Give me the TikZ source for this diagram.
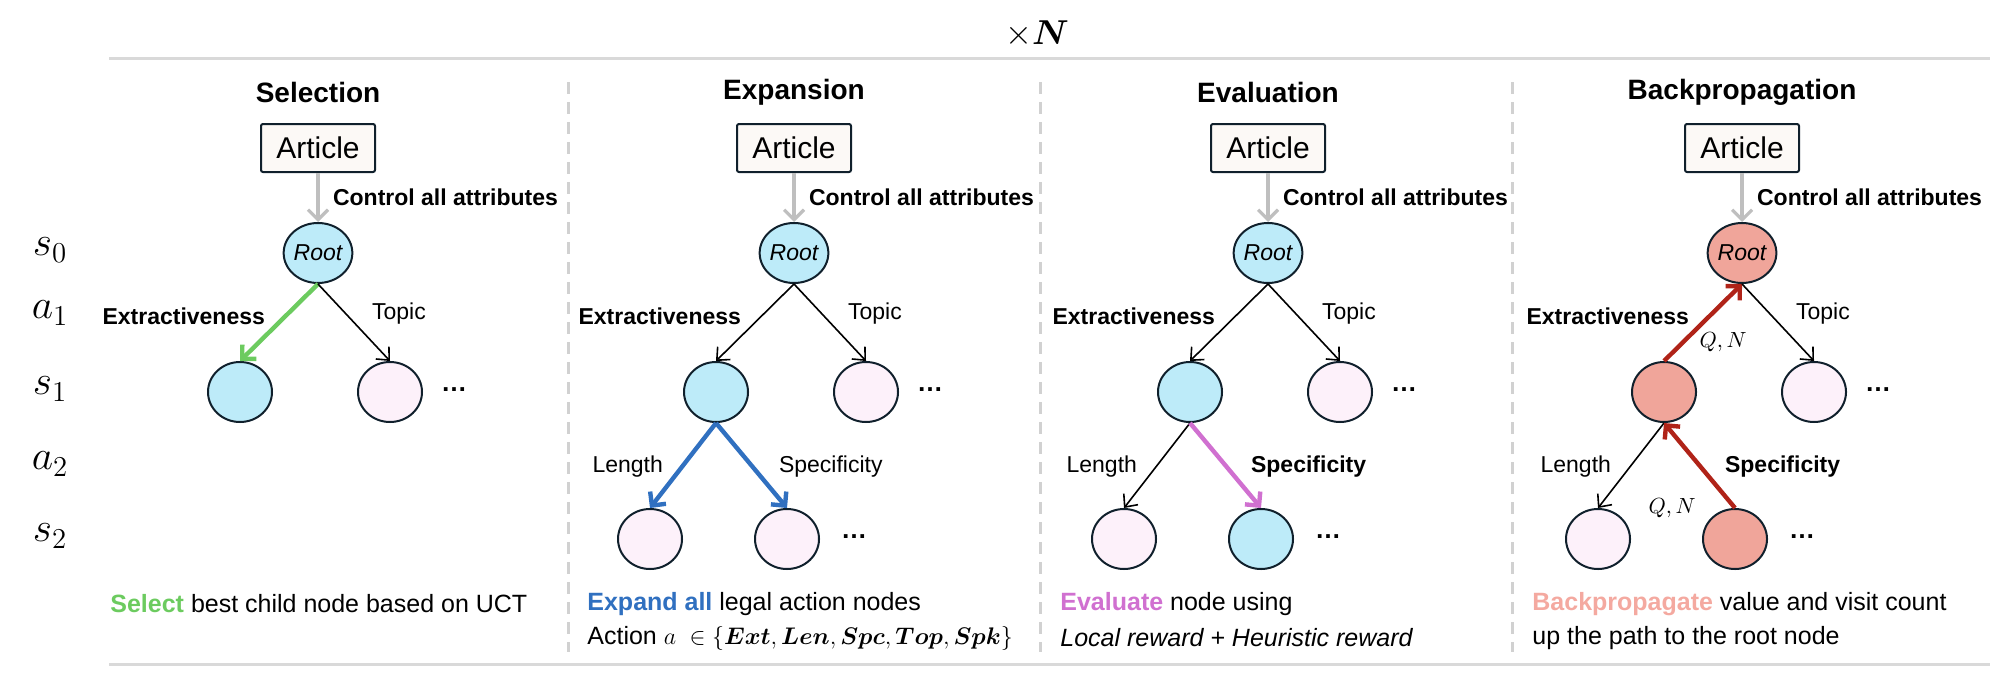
\documentclass[tikz,border=0pt]{standalone}
\usepackage{amsmath,amssymb,bm}
\usepackage{fontspec}
\setmainfont{Liberation Sans}
\usetikzlibrary{arrows.meta,shapes.geometric}
\definecolor{nblue}{HTML}{BDEBF9}
\definecolor{npink}{HTML}{FDF1FA}
\definecolor{nsal}{HTML}{F0A59A}
\definecolor{nwhite}{HTML}{FCF9F6}
\definecolor{cgreen}{HTML}{6CCB5F}
\definecolor{cblue}{HTML}{3070C0}
\definecolor{cpurp}{HTML}{D070D0}
\definecolor{cred}{HTML}{B02318}
\definecolor{csal}{HTML}{F4A9A0}
\definecolor{bord}{HTML}{10202C}
\tikzset{
  st/.style={ellipse,draw=bord,line width=1pt,minimum width=32pt,minimum height=30pt,inner sep=0pt,font=\fontsize{11.5}{13}\selectfont\itshape},
  sblue/.style={st,fill=nblue},
  spink/.style={st,fill=npink},
  ssal/.style={st,fill=nsal},
  artbox/.style={draw=bord,line width=1pt,fill=nwhite,minimum width=57pt,minimum height=24pt,rounded corners=1pt,font=\fontsize{15}{17}\selectfont},
  ttl/.style={font=\fontsize{14}{16}\selectfont\bfseries},
  lab/.style={font=\fontsize{11.5}{13}\selectfont},
  blab/.style={font=\fontsize{11.5}{13}\selectfont\bfseries},
  btxt/.style={font=\fontsize{12.5}{15}\selectfont,anchor=west,inner sep=0pt},
  thin/.style={-{Straight Barb[length=5pt,width=9pt]},line width=0.8pt},
  thick/.style={-{Straight Barb[length=5pt,width=10pt]},line width=2.2pt},
  grayarr/.style={-{Straight Barb[length=5pt,width=10pt]},line width=1.6pt,draw=black!25},
  dots/.style={font=\fontsize{13}{13}\selectfont\bfseries},
  side/.style={font=\fontsize{20}{22}\selectfont},
}
\begin{document}
\begin{tikzpicture}[x=0.5pt,y=-0.5pt]
\useasboundingbox (0,0) rectangle (2016,680);
\node[font=\fontsize{18}{20}\selectfont] (xn) at (1037,34) {$\times\bm{N}$};
\draw[black!15,line width=1.5pt] (109,58) -- (1990,58);
\draw[black!15,line width=1.5pt] (109,664) -- (1990,664);
\foreach \x in {568,1040,1512} \draw[black!18,line width=1.5pt,dash pattern=on 6pt off 4pt] (\x,82) -- (\x,652);
\node[side] (s0) at (50,250) {$s_0$};
\node[side] (a1) at (50,313) {$a_1$};
\node[side] (s1) at (50,389) {$s_1$};
\node[side] (a2) at (50,464) {$a_2$};
\node[side] (s2) at (50,536) {$s_2$};

% Panel 1: Selection
\begin{scope}[xshift=159pt,name prefix=p1-]
\node[ttl] (t) at (0,92) {Selection};
\node[artbox] (art) at (0,148) {Article};
\node[sblue] (root) at (0,253) {Root};
\node[sblue] (c1) at (-78,392) {};
\node[spink] (c2) at (72,392) {};
\node[dots] (d1) at (136,390) {\dots};
\draw[grayarr] (art) -- (root);
\node[blab,anchor=west] (ctl) at (8,197) {Control all attributes};
\draw[thick,cgreen] (root.south) -- (c1.north);
\draw[thin] (root.south) -- (c2.north);
\node[blab,anchor=east] (l1) at (-46,316) {Extractiveness};
\node[lab,anchor=west] (l2) at (47,314) {Topic};
\end{scope}
\node[btxt] (b1) at (110,604) {\textbf{\textcolor{cgreen}{Select}} best child node based on UCT};

% Panel 2: Expansion
\begin{scope}[xshift=397pt,name prefix=p2-]
\node[ttl] (t) at (0,92) {Expansion};
\node[artbox] (art) at (0,148) {Article};
\node[sblue] (root) at (0,253) {Root};
\node[sblue] (c1) at (-78,392) {};
\node[spink] (c2) at (72,392) {};
\node[dots] (d1) at (136,390) {\dots};
\node[spink] (g1) at (-144,539) {};
\node[spink] (g2) at (-7,539) {};
\node[dots] (d2) at (60,537) {\dots};
\draw[grayarr] (art) -- (root);
\node[blab,anchor=west] (ctl) at (8,197) {Control all attributes};
\draw[thin] (root.south) -- (c1.north);
\draw[thin] (root.south) -- (c2.north);
\node[blab,anchor=east] (l1) at (-46,316) {Extractiveness};
\node[lab,anchor=west] (l2) at (47,314) {Topic};
\draw[thick,cblue] (c1.south) -- (g1.north);
\draw[thick,cblue] (c1.south) -- (g2.north);
\node[lab,anchor=east] (l3) at (-124,467) {Length};
\node[lab,anchor=west] (l4) at (-22,467) {Specificity};
\end{scope}
\node[btxt] (b2a) at (587,604) {\textbf{\textcolor{cblue}{Expand all}} legal action nodes};
\node[btxt] (b2b) at (587,638) {Action {\large$a\ \in\{\bm{Ext},\bm{Len},\bm{Spc},\bm{Top},\bm{Spk}\}$}};

% Panel 3: Evaluation
\begin{scope}[xshift=634pt,name prefix=p3-]
\node[ttl] (t) at (0,92) {Evaluation};
\node[artbox] (art) at (0,148) {Article};
\node[sblue] (root) at (0,253) {Root};
\node[sblue] (c1) at (-78,392) {};
\node[spink] (c2) at (72,392) {};
\node[dots] (d1) at (136,390) {\dots};
\node[spink] (g1) at (-144,539) {};
\node[sblue] (g2) at (-7,539) {};
\node[dots] (d2) at (60,537) {\dots};
\draw[grayarr] (art) -- (root);
\node[blab,anchor=west] (ctl) at (8,197) {Control all attributes};
\draw[thin] (root.south) -- (c1.north);
\draw[thin] (root.south) -- (c2.north);
\node[blab,anchor=east] (l1) at (-46,316) {Extractiveness};
\node[lab,anchor=west] (l2) at (47,314) {Topic};
\draw[thin] (c1.south) -- (g1.north);
\draw[thick,cpurp] (c1.south) -- (g2.north);
\node[lab,anchor=east] (l3) at (-124,467) {Length};
\node[blab,anchor=west] (l4) at (-24,467) {Specificity};
\end{scope}
\node[btxt] (b3a) at (1060,604) {\textbf{\textcolor{cpurp}{Evaluate}} node using};
\node[btxt] (b3b) at (1060,638) {\textit{Local reward + Heuristic reward}};

% Panel 4: Backpropagation
\begin{scope}[xshift=871pt,name prefix=p4-]
\node[ttl] (t) at (0,92) {Backpropagation};
\node[artbox] (art) at (0,148) {Article};
\node[ssal] (root) at (0,253) {Root};
\node[ssal] (c1) at (-78,392) {};
\node[spink] (c2) at (72,392) {};
\node[dots] (d1) at (136,390) {\dots};
\node[spink] (g1) at (-144,539) {};
\node[ssal] (g2) at (-7,539) {};
\node[dots] (d2) at (60,537) {\dots};
\draw[grayarr] (art) -- (root);
\node[blab,anchor=west] (ctl) at (8,197) {Control all attributes};
\draw[thick,cred] (c1.north) -- (root.south);
\draw[thin] (root.south) -- (c2.north);
\node[blab,anchor=east] (l1) at (-46,316) {Extractiveness};
\node[lab,anchor=west] (l2) at (47,314) {Topic};
\node[font=\fontsize{11}{12}\selectfont] (q1) at (-19,342) {$Q,N$};
\draw[thin] (c1.south) -- (g1.north);
\draw[thick,cred] (g2.north) -- (c1.south);
\node[lab,anchor=east] (l3) at (-124,467) {Length};
\node[blab,anchor=west] (l4) at (-24,467) {Specificity};
\node[font=\fontsize{11}{12}\selectfont] (q2) at (-70,508) {$Q,N$};
\end{scope}
\node[btxt] (b4a) at (1532,604) {\textbf{\textcolor{csal}{Backpropagate}} value and visit count};
\node[btxt] (b4b) at (1532,638) {up the path to the root node};
\end{tikzpicture}
\end{document}
